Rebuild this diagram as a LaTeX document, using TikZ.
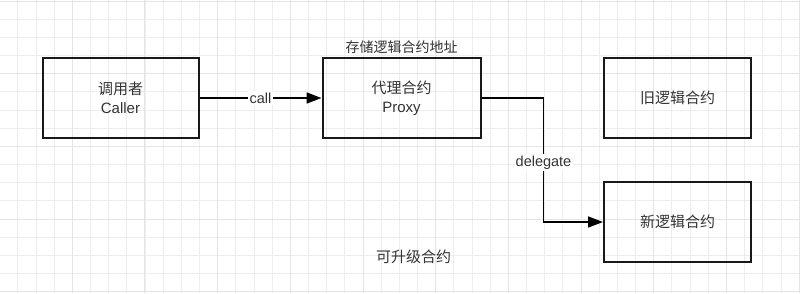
\documentclass[tikz,border=0pt]{standalone}
\usepackage{fontspec}
\setmainfont{Liberation Sans}
\newfontfamily\cjk{Noto Sans CJK SC}
\usetikzlibrary{arrows.meta,positioning}

\begin{document}
\begin{tikzpicture}
          [x=1pt,y=-1pt,>={Triangle[length=15pt,width=11pt]},line width=1.7pt]
          \tikzstyle{box}=[draw=black!90,line width=2pt,text=black!80,align=center,minimum height=80pt,font=\fontsize{15}{19}\selectfont]
          \tikzstyle{tag}=[text=black!80,inner sep=1.5pt,font=\fontsize{14.5}{17}\selectfont]
          \tikzstyle{minor}=[draw=black!7,line width=0.8pt]
          \tikzstyle{major}=[draw=black!10,line width=1pt]

          \useasboundingbox (0,0) rectangle (800,293);
          \fill[white] (0,0) rectangle (800,293);
          % grid
          \foreach \i in {0,...,44}
            \draw[minor] ({-0.4+18.17*\i},0) -- ++(0,293);
          \foreach \j in {0,...,16}
            \draw[minor] (0,{1+18.17*\j}) -- ++(800,0);
          \foreach \i in {0,...,11}
            \draw[major] ({-0.4+72.68*\i},0) -- ++(0,293);
          \foreach \j in {0,...,4}
            \draw[major] (0,{1+72.68*\j}) -- ++(800,0);

          \node[box,minimum width=156pt] (caller) at (120.5,98) {{\cjk 调用者}\\Caller};
          \node[box,minimum width=158pt] (proxy) [right=122pt of caller] {{\cjk 代理合约}\\Proxy};
          \node[box,minimum width=147pt] (old) [right=121.5pt of proxy] {\cjk 旧逻辑合约};
          \node[box,minimum width=147pt] (new) [below=42pt of old] {\cjk 新逻辑合约};

          \node[tag,font=\fontsize{14}{17}\selectfont\cjk] (store) [above=1pt of proxy] {存储逻辑合约地址};
          \node[tag,font=\fontsize{15}{17}\selectfont\cjk] (upgrade) at (413.5,257) {可升级合约};

          \draw[->] (caller) -- node[tag,fill=white] {call} (proxy);
          \draw[->] (proxy.east) -- ++(62pt,0) |- node[tag,fill=white,pos=0.26] {delegate} (new.west);
        \end{tikzpicture}
\end{document}
